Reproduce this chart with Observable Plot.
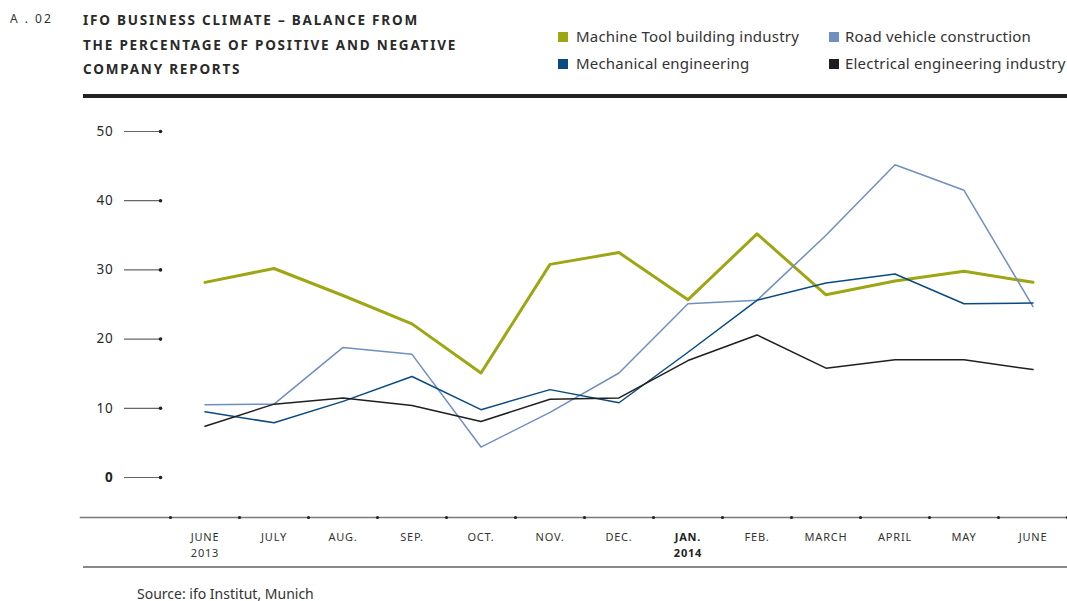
<!DOCTYPE html>
<html>
<head>
<meta charset="utf-8">
<script src="https://cdn.jsdelivr.net/npm/d3@7"></script>
<script src="https://cdn.jsdelivr.net/npm/@observablehq/plot@0.6"></script>
<style>
  html, body { margin: 0; padding: 0; background: #fff; }
  body { width: 1067px; height: 601px; position: relative; overflow: hidden; font-family: "Noto Sans", sans-serif; color: #222; }
  .code { position: absolute; left: 10px; top: 10px; font-size: 12px; letter-spacing: 2px; color: #333; }
  .title { position: absolute; left: 83px; top: 8px; font-size: 13.5px; font-weight: 700; letter-spacing: 1.8px; line-height: 24.5px; color: #2a2a2a; }
  .rule { position: absolute; left: 83px; top: 94px; width: 984px; height: 4px; background: #222; }
  .legend { position: absolute; font-size: 15px; letter-spacing: 0.2px; color: #333; line-height: 18px; white-space: nowrap; }
  .legend .sw { display: inline-block; width: 10px; height: 10px; vertical-align: 0px; }
  #chart { position: absolute; left: 0; top: 100px; }
  #chart svg text { letter-spacing: 0.8px; }
  .bottom { position: absolute; left: 83px; top: 566px; width: 984px; height: 2px; background: #888; }
  .source { position: absolute; left: 137px; top: 585px; font-size: 14px; line-height: 18px; color: #333; }
</style>
</head>
<body>
<div class="code">A . 02</div>
<div class="title">IFO BUSINESS CLIMATE – BALANCE FROM<br>THE PERCENTAGE OF POSITIVE AND NEGATIVE<br>COMPANY REPORTS</div>
<div id="legend"></div>
<div class="rule"></div>
<div id="chart"></div>
<div class="bottom"></div>
<div class="source">Source: ifo Institut, Munich</div>
<script>
const months = ["JUNE\n2013", "JULY", "AUG.", "SEP.", "OCT.", "NOV.", "DEC.", "JAN.\n2014", "FEB.", "MARCH", "APRIL", "MAY", "JUNE"];
const boldMonth = "JAN.\n2014";
const seriesNames = ["Machine Tool building industry", "Road vehicle construction", "Mechanical engineering", "Electrical engineering industry"];
const seriesColors = ["#9ea614", "#6f8fc0", "#0a4a80", "#1f1f1f"];
const machineTool = [28.2, 30.2, 26.3, 22.2, 15.1, 30.8, 32.5, 25.7, 35.2, 26.4, 28.4, 29.8, 28.2];
const roadVehicle = [10.5, 10.6, 18.8, 17.8, 4.4, 9.4, 15.1, 25.1, 25.6, 35.0, 45.2, 41.5, 24.7];
const mechanical = [9.5, 7.9, 11.0, 14.6, 9.8, 12.7, 10.8, 18.1, 25.6, 28.1, 29.4, 25.1, 25.2];
const electrical = [7.4, 10.6, 11.5, 10.4, 8.1, 11.3, 11.5, 16.9, 20.6, 15.8, 17.0, 17.0, 15.6];
const yTicks = [0, 10, 20, 30, 40, 50];

// legend (two columns, order as in reference)
const legendLayout = [
  {name: seriesNames[0], color: seriesColors[0], left: 558, top: 27, gap: 8},
  {name: seriesNames[2], color: seriesColors[2], left: 558, top: 54, gap: 8},
  {name: seriesNames[1], color: seriesColors[1], left: 829, top: 27, gap: 6},
  {name: seriesNames[3], color: seriesColors[3], left: 829, top: 54, gap: 6}
];
const legendEl = document.getElementById("legend");
for (const item of legendLayout) {
  const d = document.createElement("div");
  d.className = "legend";
  d.style.left = item.left + "px";
  d.style.top = item.top + "px";
  d.innerHTML = `<span class="sw" style="background:${item.color};margin-right:${item.gap}px"></span>${item.name}`;
  legendEl.appendChild(d);
}

const valueSets = [machineTool, roadVehicle, mechanical, electrical];
const rows = valueSets.map((vals, s) => vals.map((v, i) => ({i, value: v, series: seriesNames[s]})));
const monthRows = months.map((label, i) => ({i, label}));
const boundaries = d3.range(-0.5, months.length, 1);

const chart = Plot.plot({
  width: 1067,
  height: 468,
  marginLeft: 80,
  marginRight: 0,
  marginTop: 31,
  marginBottom: 51,
  x: {type: "linear", domain: [-0.5, months.length - 0.5], range: [170, 1067], axis: null},
  y: {domain: [0, 50], range: [377, 31], axis: null},
  style: {fontFamily: "Noto Sans, sans-serif", color: "#333", background: "transparent"},
  marks: [
    Plot.frame({anchor: "bottom", stroke: "#7a7a7a", strokeWidth: 1.5}),
    Plot.dot(boundaries, {x: d => d, frameAnchor: "bottom", r: 1.6, fill: "#222", stroke: null}),
    Plot.axisY({ticks: yTicks, anchor: "left", label: null, tickSize: 36, tickFormat: () => "", dx: 80, stroke: "#666", strokeWidth: 1.2}),
    Plot.dot(yTicks, {y: d => d, frameAnchor: "left", dx: 80, r: 1.8, fill: "#222", stroke: null}),
    Plot.text(yTicks.filter(d => d !== 0), {y: d => d, text: d => String(d), frameAnchor: "left", dx: 33, textAnchor: "end", fontSize: 13.5, fill: "#2a2a2a"}),
    Plot.text(yTicks.filter(d => d === 0), {y: d => d, text: d => String(d), frameAnchor: "left", dx: 33, textAnchor: "end", fontSize: 13.5, fontWeight: 700, fill: "#222"}),
    Plot.text(monthRows.filter(d => d.label !== boldMonth), {x: "i", text: "label", frameAnchor: "bottom", dy: 12, lineAnchor: "top", lineHeight: 1.45, fontSize: 11, fill: "#333"}),
    Plot.text(monthRows.filter(d => d.label === boldMonth), {x: "i", text: "label", frameAnchor: "bottom", dy: 12, lineAnchor: "top", lineHeight: 1.45, fontSize: 11, fontWeight: 700, fill: "#222"}),
    Plot.line(rows[0], {x: "i", y: "value", stroke: seriesColors[0], strokeWidth: 3}),
    Plot.line(rows[1], {x: "i", y: "value", stroke: seriesColors[1], strokeWidth: 1.5}),
    Plot.line(rows[2], {x: "i", y: "value", stroke: seriesColors[2], strokeWidth: 1.5}),
    Plot.line(rows[3], {x: "i", y: "value", stroke: seriesColors[3], strokeWidth: 1.5})
  ]
});
document.getElementById("chart").appendChild(chart);
</script>
</body>
</html>
